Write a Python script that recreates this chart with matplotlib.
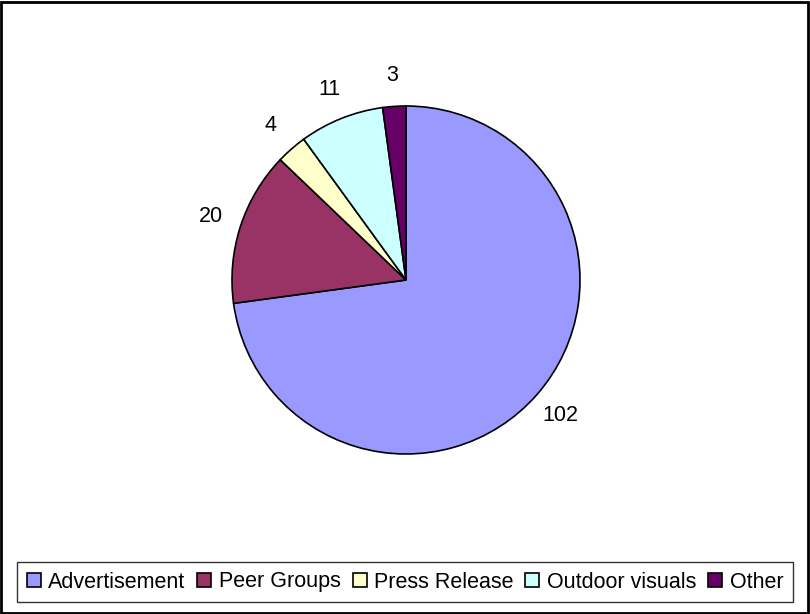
import matplotlib.pyplot as plt
from matplotlib.patches import Rectangle

plt.rcParams['font.family'] = ['Liberation Sans', 'DejaVu Sans']

categories = ["Advertisement", "Peer Groups", "Press Release", "Outdoor visuals", "Other"]
values = [102, 20, 4, 11, 3]
colors = ["#9999FF", "#993366", "#FFFFCC", "#CCFFFF", "#660066"]

W, H = 810, 614
fig = plt.figure(figsize=(W / 100, H / 100), dpi=100)

# pie centre and radius in pixels
cx, cy, r = 406, 280, 174
ax = fig.add_axes([(cx - r) / W, (H - cy - r) / H, 2 * r / W, 2 * r / H])

wedges, texts = ax.pie(
    values,
    colors=colors,
    startangle=90,
    counterclock=False,
    labels=[str(v) for v in values],
    labeldistance=1.18,
    wedgeprops=dict(edgecolor="black", linewidth=1.2),
    textprops=dict(fontsize=15.5, color="black"),
)
for t in texts:
    t.set_horizontalalignment("center")
    t.set_verticalalignment("center")
ax.set_xlim(-1, 1)
ax.set_ylim(-1, 1)
ax.set_aspect("equal")

leg = fig.legend(
    wedges, categories,
    loc="center", bbox_to_anchor=(405 / W, 1 - 582 / H),
    ncol=5, fontsize=15.5, frameon=True, fancybox=False,
    handlelength=0.65, handleheight=0.65, handletextpad=0.35,
    columnspacing=0.55, borderpad=0.45, borderaxespad=0,
)
leg.get_frame().set_edgecolor("black")
leg.get_frame().set_linewidth(1.0)

# outer border of the chart area
fig.patches.append(Rectangle((1 / W, 1 / H), 1 - 3 / W, 1 - 3 / H,
                             transform=fig.transFigure, fill=False,
                             edgecolor="black", linewidth=2))

fig.savefig("out.png", dpi=100)
